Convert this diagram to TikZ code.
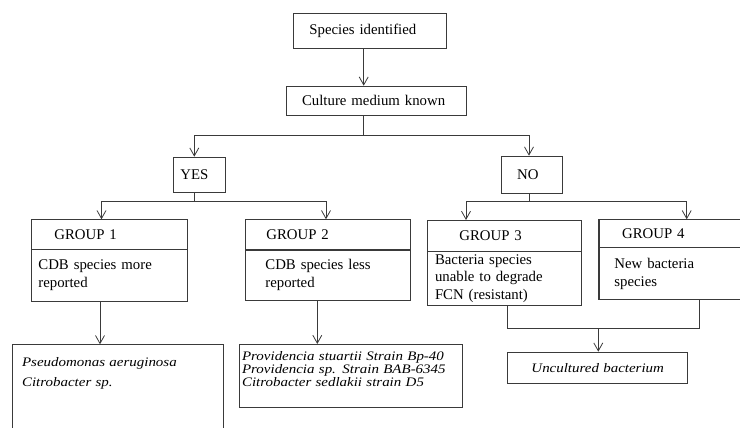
\documentclass[tikz,border=0pt]{standalone}
\usepackage{fontspec}
\setmainfont{Liberation Serif}
\newfontfamily\spfont{Liberation Serif}[FakeStretch=1.15]
\usetikzlibrary{arrows.meta,positioning,calc}
\definecolor{lnc}{HTML}{3A3A3A}
\tikzset{
  box/.style  ={draw=lnc, rectangle, anchor=north west, align=left, inner ysep=0pt,
                line width=0.8pt, font=\fontsize{14.8}{17.5}\selectfont},
  boxsp/.style={box, font=\spfont\itshape\fontsize{13}{13.3}\selectfont},
  ar/.style   ={-{Straight Barb[length=8pt,width=9pt]}, draw=lnc, line width=0.8pt},
  cn/.style   ={draw=lnc, line width=0.8pt},
  dv/.style   ={draw=lnc, line width=1.5pt},
}

\begin{document}
\begin{tikzpicture}[x=1pt,y=-1pt]
\useasboundingbox (0,0) rectangle (740,428);
\node[box, inner xsep=15.7pt, text width=121pt, minimum height=35pt] (sp) at (293.3,12.7) {Species identified};
\node[box, inner xsep=16pt, text width=148.3pt, minimum height=29.3pt] (cm) at (285.7,85.7) {Culture medium known};
\node[box, inner xsep=7.3pt, text width=38pt, minimum height=35pt] (yes) at (172.7,156.7) {YES};
\node[box, inner xsep=15.7pt, text width=29.3pt, minimum height=37pt] (no) at (501,155.7) {NO};
\node[box, inner xsep=23.3pt, text width=110pt, minimum height=30pt] (g1h) at (30.7,219.3) {GROUP 1};
\node[box, inner xsep=7.3pt, text width=142pt, minimum height=51.4pt] (g1b) at (30.7,249.3)
  {CDB species more\\reported};
\node[box, inner xsep=21pt, text width=123pt, minimum height=29.7pt] (g2h) at (245,219.3) {GROUP 2};
\node[box, inner xsep=20pt, text width=125pt, minimum height=51pt] (g2b) at (245,249)
  {CDB species less\\reported};
\node[box, inner xsep=31.7pt, text width=90.3pt, minimum height=30.7pt] (g3h) at (427.3,220) {GROUP 3};
\node[box, inner xsep=7.3pt, text width=139.1pt, minimum height=54.3pt] (g3b) at (427.3,250.7)
  {Bacteria species\\unable to degrade\\FCN (resistant)};
\node[box, inner xsep=22.7pt, text width=95.6pt, minimum height=28pt] (g4h) at (599,219.3) {GROUP 4};
\node[box, inner xsep=15pt, text width=111pt, minimum height=52pt] (g4b) at (599,247.3)
  {New bacteria\\species};
\node[boxsp, inner xsep=9.4pt, inner ysep=13pt, text width=191.6pt] (pa) at (12.3,344.3)
  {Pseudomonas aeruginosa\\[6.7pt]Citrobacter sp.\rule[-32pt]{0pt}{0pt}};
\node[boxsp, inner xsep=3pt, inner ysep=6.7pt, text width=217.3pt] (pv) at (238.7,344)
  {Providencia stuartii Strain Bp-40\\Providencia sp. Strain BAB-6345\\Citrobacter sedlakii strain D5\rule[-14pt]{0pt}{0pt}};
\node[boxsp, align=center, inner xsep=0pt, text width=180pt, minimum height=31pt] (ub) at (507.3,351.7)
  {Uncultured bacterium};
\draw[dv] (g2h.south west) -- (g2h.south east);
\draw[dv] (g3h.south west) -- (g3h.south east);
\draw[dv] (g4h.north west) -- (g4b.south west);
\coordinate (sx) at (363.7,0);
\coordinate (jc) at (363.7,135.7);
\coordinate (xy) at (194.3,0);
\coordinate (xn) at (529,0);
\coordinate (jy) at (194.3,201.7);
\coordinate (jn) at (529,201.7);
\coordinate (xg1) at (101.5,0);
\coordinate (xg2) at (326,0);
\coordinate (xg3) at (466,0);
\coordinate (xg4) at (686.7,0);
\coordinate (x1) at (100,0);
\coordinate (x2) at (317.3,0);
\coordinate (x3) at (507.3,0);
\coordinate (x4) at (699.3,0);
\coordinate (jm) at (598.3,328.3);
\draw[ar] (sp.south -| sx) -- (cm.north -| sx);
\draw[ar] (cm.south -| sx) -- (jc) -| (yes.north -| xy);
\draw[ar] (jc) -| (no.north -| xn);
\draw[ar] (yes.south -| xy) -- (jy) -| (g1h.north -| xg1);
\draw[ar] (jy) -| (g2h.north -| xg2);
\draw[ar] (no.south -| xn) -- (jn) -| (g3h.north -| xg3);
\draw[ar] (jn) -| (g4h.north -| xg4);
\draw[ar] (g1b.south -| x1) -- (pa.north -| x1);
\draw[ar] (g2b.south -| x2) -- (pv.north -| x2);
\draw[cn] (g3b.south -| x3) |- (jm) -| (g4b.south -| x4);
\draw[ar] (jm) -- (ub.north -| jm);
\end{tikzpicture}
\end{document}
